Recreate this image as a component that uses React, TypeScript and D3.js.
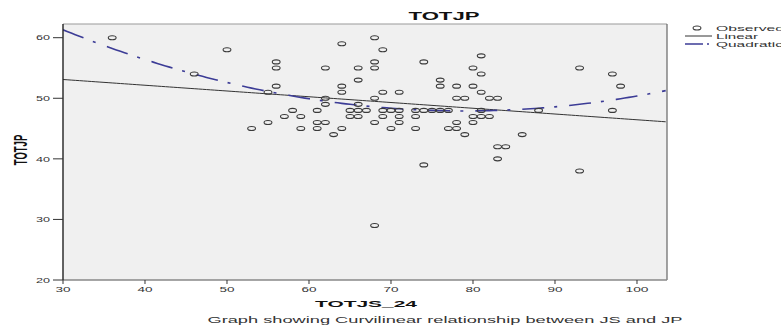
import React from 'react';
import * as d3 from 'd3';

const W = 781;
const H = 327;
const FONT = "'Liberation Sans', Arial, sans-serif";

// observed points, grouped by TOTJP value (y) -> list of TOTJS_24 values (x)
const jpValues = [60, 59, 58, 57, 56, 55, 54, 53, 52, 51, 50, 49, 48, 47, 46, 45, 44, 42, 40, 39, 38, 29];
const jsAtValue = [
  [36, 68],
  [64],
  [50, 69],
  [81],
  [56, 68, 74],
  [56, 62, 66, 68, 80, 93],
  [46, 81, 97],
  [66, 76],
  [56, 64, 76, 78, 80, 98],
  [55, 64, 69, 71, 81],
  [62, 68, 78, 79, 82, 83],
  [62, 66],
  [58, 61, 65, 66, 67, 69, 70, 71, 73, 74, 75, 76, 77, 81, 88, 97],
  [57, 59, 65, 66, 69, 71, 73, 80, 81, 82],
  [55, 61, 62, 68, 71, 78, 80],
  [53, 59, 61, 64, 70, 73, 77, 78],
  [63, 79, 86],
  [83, 84],
  [83],
  [74],
  [93],
  [68],
];

// fitted models (b0, b1, b2)
const linearCoef = [55.95, -0.095];
const quadCoef = [82.73, -0.8816, 0.00558];

const xTicks = [30, 40, 50, 60, 70, 80, 90, 100];
const yTicks = [20, 30, 40, 50, 60];

const legendItems = ['Observed', 'Linear', 'Quadratic'];

export default function App() {
  const margin = { left: 63, right: 114, top: 24, bottom: 47 };
  const x = d3.scaleLinear().domain([30, 103.66]).range([margin.left, W - margin.right]);
  const y = d3.scaleLinear().domain([20, 62.26]).range([H - margin.bottom, margin.top]);

  const points = jpValues.flatMap((v, i) => jsAtValue[i].map(js => ({ js, jp: v })));

  const xs = d3.range(30, 103.7, 0.5);
  const linePath = d3.line<number>()
    .x(d => x(d))
    .y(d => y(linearCoef[0] + linearCoef[1] * d))(xs);
  const quadPath = d3.line<number>()
    .x(d => x(d))
    .y(d => y(quadCoef[0] + quadCoef[1] * d + quadCoef[2] * d * d))(xs);

  const [x0, x1] = x.range();
  const [yb, yt] = y.range();
  const quadDash = '22,10,3,12';

  return (
    <svg width={W} height={H} style={{ position: 'absolute', left: 0, top: 0, fontFamily: FONT }}>
      <rect x={0} y={0} width={W} height={H} fill="#fff" />
      <defs>
        <clipPath id="plot">
          <rect x={x0} y={yt} width={x1 - x0} height={yb - yt} />
        </clipPath>
      </defs>

      <rect x={x0} y={yt} width={x1 - x0} height={yb - yt} fill="#f0f0f0" />

      <g clipPath="url(#plot)">
        <path d={linePath || ''} fill="none" stroke="#333" strokeWidth={1} />
        <path d={quadPath || ''} fill="none" stroke="#3c3c96" strokeWidth={1.6} strokeDasharray={quadDash} />
        {points.map((p, i) => (
          <ellipse key={i} cx={x(p.js)} cy={y(p.jp)} rx={3.9} ry={2} fill="none" stroke="#3a3a3a" strokeWidth={1.1} />
        ))}
      </g>

      {/* frame */}
      <line x1={x0} x2={x1} y1={yt} y2={yt} stroke="#999" strokeWidth={1.2} />
      <line x1={x1} x2={x1} y1={yt} y2={yb} stroke="#666" strokeWidth={1.2} />
      <line x1={x0} x2={x1} y1={yb} y2={yb} stroke="#888" strokeWidth={1.5} />
      <line x1={x0} x2={x0} y1={yt} y2={yb} stroke="#222" strokeWidth={1.4} />

      {/* y axis */}
      {yTicks.map(t => (
        <g key={t}>
          <line x1={x0 - 10} x2={x0} y1={y(t)} y2={y(t)} stroke="#333" strokeWidth={1} />
          <text x={50} y={y(t) + 2.8} textAnchor="end" fontSize={8} fill="#333"
            textLength={14} lengthAdjust="spacingAndGlyphs">{t}</text>
        </g>
      ))}

      {/* x axis */}
      {xTicks.map(t => (
        <g key={t}>
          <line x1={x(t)} x2={x(t)} y1={yb} y2={yb + 4} stroke="#333" strokeWidth={1} />
          <text x={x(t)} y={yb + 11.5} textAnchor="middle" fontSize={8} fill="#333"
            textLength={t >= 100 ? 23 : 15} lengthAdjust="spacingAndGlyphs">{t}</text>
        </g>
      ))}

      {/* titles */}
      <text x={444} y={20} textAnchor="middle" fontSize={10} fontWeight="bold" fill="#111"
        textLength={71} lengthAdjust="spacingAndGlyphs">TOTJP</text>
      <text x={366} y={306.5} textAnchor="middle" fontSize={9.5} fontWeight="bold" fill="#111"
        textLength={102} lengthAdjust="spacingAndGlyphs">TOTJS_24</text>
      <text transform={`translate(27,${150}) rotate(-90) scale(1,1.9)`} textAnchor="middle"
        fontSize={9.5} fontWeight="bold" fill="#111">TOTJP</text>
      <text x={445} y={323} textAnchor="middle" fontSize={9} fill="#333"
        textLength={475} lengthAdjust="spacingAndGlyphs">
        Graph showing Curvilinear relationship between JS and JP
      </text>

      {/* legend */}
      <g>
        <ellipse cx={697} cy={28} rx={3.9} ry={2} fill="none" stroke="#3a3a3a" strokeWidth={1.1} />
        <line x1={685} x2={712} y1={36} y2={36} stroke="#333" strokeWidth={1} />
        <line x1={685} x2={712} y1={44} y2={44} stroke="#3c3c96" strokeWidth={1.6} strokeDasharray="18,4,2,4" />
        {legendItems.map((t, i) => (
          <text key={t} x={716} y={31 + i * 8} fontSize={8} fill="#333"
            textLength={[68, 42, 67][i]} lengthAdjust="spacingAndGlyphs">{t}</text>
        ))}
      </g>
    </svg>
  );
}
